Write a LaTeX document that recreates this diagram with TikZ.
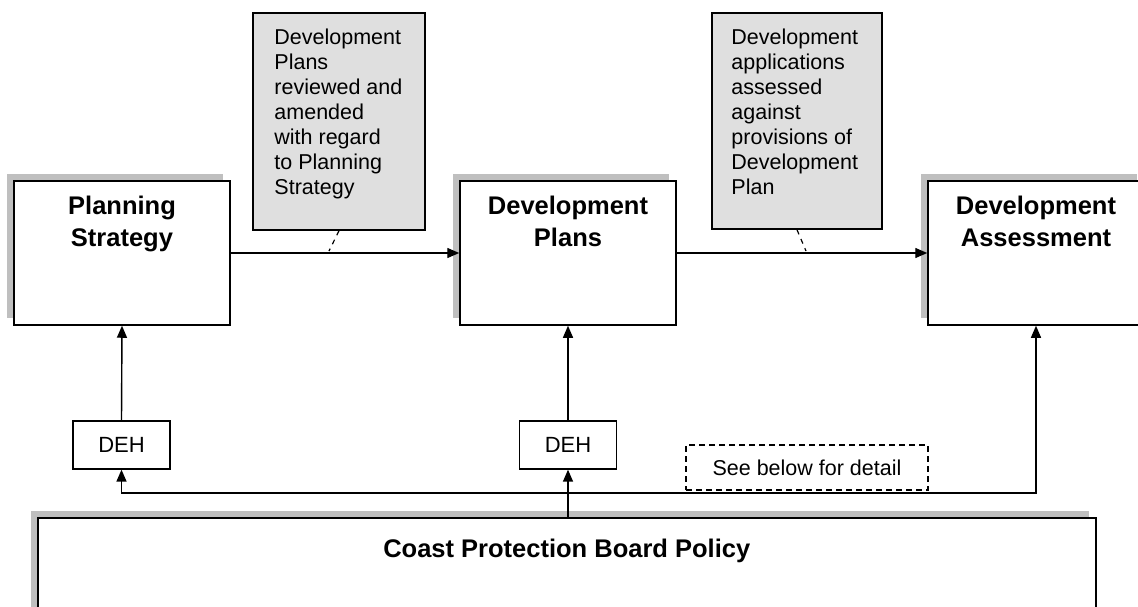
\documentclass[tikz,border=0pt]{standalone}
\usepackage{fontspec}
\setmainfont{Liberation Sans}
\usetikzlibrary{arrows.meta,positioning,shadows}

\begin{document}
\begin{tikzpicture}[x=1pt,y=-1pt,
	box/.style={draw,line width=1.5pt,fill=white,inner sep=0pt,drop shadow={shadow xshift=-7pt,shadow yshift=7pt,fill=gray!50,opacity=1}},
	stage/.style={box,minimum width=216pt,minimum height=144pt},
	title/.style={font=\bfseries\fontsize{25.5}{32}\selectfont,align=center,inner sep=0pt},
	note/.style={draw,line width=1.5pt,fill=gray!25,inner sep=0pt},
	notetext/.style={font=\fontsize{21.5}{25}\selectfont,align=left,inner sep=0pt},
	deh/.style={draw,line width=1.3pt,fill=white,minimum width=97pt,minimum height=48pt,inner sep=0pt,font=\fontsize{22}{26}\selectfont},
	arr/.style={line width=1.4pt,-{Triangle[length=12pt,width=10pt]}}]
	\clip (0,0) rectangle (1138,606);
	\node[stage] (plan) at (122,253) {};
	\node[title,below=16pt of plan.north] (planT) {Planning\\Strategy};
	\node[stage] (dplan) at (568,253) {};
	\node[title,below=16pt of dplan.north] (dplanT) {Development\\Plans};
	\node[stage] (dassess) at (1036,253) {};
	\node[title,below=16pt of dassess.north] (dassessT) {Development\\Assessment};

	\node[note,minimum width=172pt,minimum height=217pt] (note1) at (339,121.5) {};
	\node[notetext,below right=16pt and 22pt of note1.north west] (note1T) {Development\\Plans\\reviewed and\\amended\\with regard\\to Planning\\Strategy};
	\node[note,minimum width=170pt,minimum height=216pt] (note2) at (797,121) {};
	\node[notetext,below right=16pt and 20pt of note2.north west] (note2T) {Development\\applications\\assessed\\against\\provisions of\\Development\\Plan};

	\node[deh] (deh1) at (121.5,445) {DEH};
	\node[deh] (deh2) at (568,445) {DEH};
	\node[draw,line width=1.3pt,dash pattern=on 6pt off 4pt,minimum width=242pt,minimum height=45pt,inner sep=0pt,font=\fontsize{21.5}{25}\selectfont] (detail) at (807,467.5) {See below for detail};

	\node[box,minimum width=1058pt,minimum height=120pt,anchor=north west] (coast) at (37,517) {};
	\node[title,below=22pt of coast.north] (coastT) {Coast Protection Board Policy};

	\coordinate (split) at (568,493);
	\coordinate (p1) at (329,251);
	\coordinate (p2) at (806,251);

	\draw[arr] (plan.east) -- (dplan.west);
	\draw[arr] (dplan.east) -- (dassess.west);
	\draw[arr] (deh1.north) -- (plan.south);
	\draw[arr] (deh2.north) -- (dplan.south);
	\draw[arr] (coast.north -| deh2) -- (deh2.south);
	\draw[arr] (split) -| (deh1.south);
	\draw[arr] (split) -| (dassess.south);
	\draw[line width=1.2pt,dash pattern=on 5pt off 5pt] (note1.south) -- (p1);
	\draw[line width=1.2pt,dash pattern=on 5pt off 5pt] (note2.south) -- (p2);
\end{tikzpicture}
\end{document}
